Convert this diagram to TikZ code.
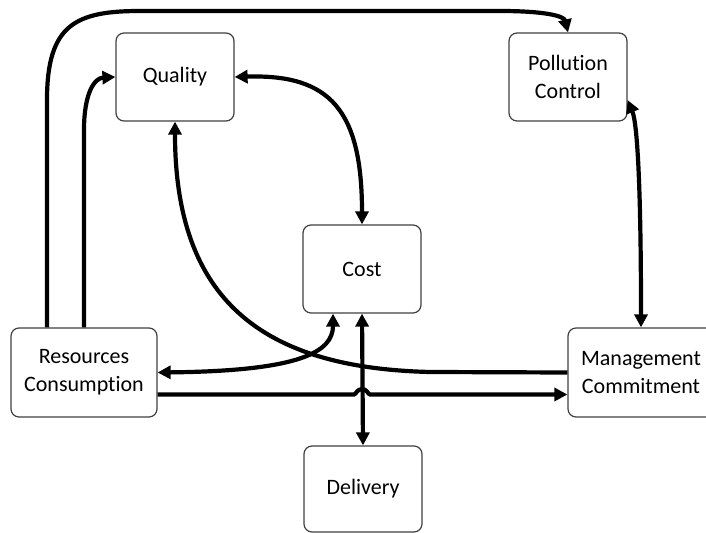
\documentclass[tikz,border=0pt]{standalone}
\usepackage{fontspec}
\setmainfont[Ligatures=NoCommon]{Carlito}
\usetikzlibrary{arrows.meta}
\begin{document}
\begin{tikzpicture}[x=0.5pt,y=-0.5pt,
  box/.style={draw=black!75,line width=0.6pt,rounded corners=4pt,fill=white,
    align=center,inner sep=0pt,font=\fontsize{11}{14}\selectfont},
  conn/.style={line width=2.1pt,black},
  tip/.tip={Triangle[length=6.5pt,width=6.5pt]},
  arr/.style={conn,-tip},
  barr/.style={conn,tip-tip}]
\useasboundingbox (0,0) rectangle (706,533);
\node[box,minimum width=59pt,minimum height=44pt] (qual) at (175,77) {Quality};
\node[box,minimum width=59pt,minimum height=44pt] (pol) at (568,77) {Pollution\\Control};
\node[box,minimum width=59pt,minimum height=44pt] (cost) at (362,269) {Cost};
\node[box,minimum width=73pt,minimum height=44.5pt] (res) at (84,372.5) {Resources\\Consumption};
\node[box,minimum width=73pt,minimum height=44.5pt] (mgmt) at (641,372.5) {Management\\Commitment};
\node[box,minimum width=59pt,minimum height=43pt] (del) at (363,489) {Delivery};
% Resources -> Pollution Control
\draw[arr] ([xshift=-18.5pt]res.north) -- (47,100) .. controls (47,25) and (75,11) .. (140,11)
  -- (500,11) .. controls (545,11) and (564,16) .. (pol.north);
% Resources -> Quality
\draw[arr] (res.north) -- (84,130) .. controls (84,92) and (95,78) .. (qual.west);
% Quality <-> Cost
\draw[barr] (qual.east) .. controls (330,74) and (362,110) .. (cost.north);
% Management -> Quality
\draw[arr] (mgmt.west) -- (430,372) .. controls (262,368) and (175,300) .. (qual.south);
% Cost <-> Resources
\draw[barr] ([xshift=-14.5pt]cost.south) .. controls (333,352) and (300,371) .. (res.east);
% Cost <-> Delivery
\draw[barr] (cost.south) -- (del.north);
% Resources -> Management with hop
\draw[arr] ([yshift=-11pt]res.east) -- (354,394.5) .. controls (356,394.5) and (357,389) .. (362,389)
  .. controls (367,389) and (368,394.5) .. (370,394.5) -- ([yshift=-11pt]mgmt.west);
% Pollution <-> Management
\draw[barr] ([yshift=-11.5pt]pol.east) .. controls (638,125) and (641,200) .. (mgmt.north);
\end{tikzpicture}
\end{document}
